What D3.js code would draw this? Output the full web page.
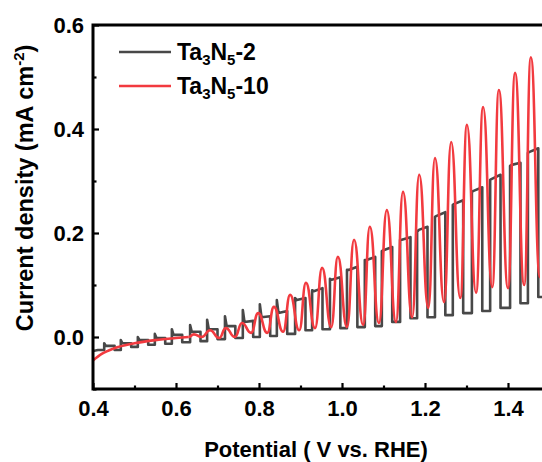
<!DOCTYPE html>
<html><head><meta charset="utf-8">
<script src="https://cdn.jsdelivr.net/npm/d3@7"></script>
<style>
body{margin:0;background:#fff}
svg{display:block}
text{font-family:"Liberation Sans",Arial,sans-serif;font-weight:bold;fill:#000}
</style>
</head><body>
<svg id="c" width="542" height="462"></svg>
<script>
// ---------- DATA ----------
const seriesNames = ["Ta3N5-2", "Ta3N5-10"];
const xTicks = [0.4, 0.6, 0.8, 1.0, 1.2, 1.4];
const xMinor = [0.5, 0.7, 0.9, 1.1, 1.3, 1.5];
const yTicks = [0.0, 0.2, 0.4, 0.6];
const yMinor = [-0.1, 0.1, 0.3, 0.5];

// Ta3N5-2 (chopped light, square-wave response)
const grayStartV = [0.400, 0.412];
const grayStartJ = [-0.027, -0.025];
const grayOn  = [0.427,0.467,0.508,0.549,0.590,0.634,0.675,0.718,0.761,0.802,0.843,0.887,0.928,0.971,1.012,1.055,1.096,1.140,1.181,1.224,1.267,1.313,1.357,1.405,1.448];
const grayOff = [0.452,0.492,0.533,0.574,0.615,0.659,0.700,0.743,0.786,0.827,0.868,0.912,0.953,0.996,1.037,1.080,1.121,1.165,1.206,1.249,1.292,1.338,1.382,1.430,1.473];
const graySpike   = [-0.012,-0.006,0.000,0.006,0.015,0.023,0.033,0.040,0.052,0.063,0.071,0.075,0.090,0.112,0.129,0.148,0.165,0.187,0.202,0.231,0.254,0.279,0.302,0.329,0.354];
const grayPlateau = [-0.017,-0.012,-0.006,-0.002,0.004,0.010,0.015,0.021,0.029,0.038,0.046,0.071,0.088,0.110,0.129,0.148,0.167,0.187,0.206,0.233,0.256,0.281,0.304,0.331,0.356];
const grayLightEnd= [-0.017,-0.012,-0.006,-0.002,0.004,0.010,0.015,0.021,0.031,0.040,0.050,0.075,0.094,0.115,0.135,0.154,0.173,0.192,0.212,0.240,0.263,0.288,0.312,0.335,0.363];
const grayDark    = [-0.025,-0.019,-0.015,-0.013,-0.010,-0.008,-0.004,-0.002,0.000,0.002,0.006,0.013,0.015,0.017,0.019,0.021,0.029,0.036,0.038,0.042,0.046,0.050,0.056,0.065,0.077];

// Ta3N5-10 (chopped light, rounded transients)
const redBaseV = [0.400, 0.420, 0.450, 0.500, 0.550, 0.600, 0.630];
const redBaseJ = [-0.045,-0.033,-0.022,-0.012,-0.006,-0.002,0.000];
const redPeakV = [0.643,0.682,0.720,0.759,0.798,0.836,0.875,0.913,0.952,0.990,1.029,1.067,1.108,1.147,1.186,1.224,1.263,1.301,1.340,1.378,1.417,1.455];
const redPeakJ = [0.005,0.013,0.017,0.027,0.046,0.058,0.081,0.104,0.133,0.154,0.187,0.212,0.244,0.279,0.312,0.344,0.375,0.408,0.442,0.475,0.508,0.538];
const redTroughV = [0.662,0.704,0.742,0.781,0.820,0.858,0.897,0.935,0.974,1.012,1.051,1.089,1.130,1.169,1.208,1.246,1.285,1.323,1.362,1.400,1.439,1.477];
const redTroughJ = [0.000,-0.002,0.000,0.008,0.008,0.010,0.013,0.017,0.019,0.019,0.023,0.027,0.029,0.038,0.056,0.067,0.075,0.085,0.096,0.094,0.100,0.115];

const colors = ["#484848", "#f23a3f"];

// ---------- CHART ----------
const svg = d3.select("#c");
const x = d3.scaleLinear().domain([0.4, 1.5]).range([93, 549.5]);
const y = d3.scaleLinear().domain([-0.1, 0.6]).range([389, 25]);

svg.append("defs").append("clipPath").attr("id","clip")
  .append("rect").attr("x",93).attr("y",25).attr("width",460).attr("height",364);

// gray points
const gp = [];
grayStartV.forEach((v,i)=>gp.push([v, grayStartJ[i]]));
grayOn.forEach((on,i)=>{
  const prevDark = i ? grayDark[i-1] : grayStartJ[grayStartJ.length-1];
  gp.push([on, prevDark]);
  gp.push([on, graySpike[i]]);
  gp.push([on + 0.004, grayPlateau[i]]);
  gp.push([grayOff[i], grayLightEnd[i]]);
  gp.push([grayOff[i], grayDark[i]]);
  if (i === grayOn.length-1) gp.push([1.5, grayDark[i]]);
});

// red points
const rBase = redBaseV.map((v,i)=>[v, redBaseJ[i]]);
const rOsc = [rBase[rBase.length-1]];
redPeakV.forEach((v,i)=>{ rOsc.push([v, redPeakJ[i]]); rOsc.push([redTroughV[i], redTroughJ[i]]); });

const plot = svg.append("g").attr("clip-path","url(#clip)");
plot.append("path").datum(gp)
  .attr("fill","none").attr("stroke",colors[0]).attr("stroke-width",2.6)
  .attr("stroke-linejoin","round")
  .attr("d", d3.line().x(d=>x(d[0])).y(d=>y(d[1])).curve(d3.curveLinear));

// steep-sided, rounded-end transient rendering between extrema
function transientPath(pts){
  const p = pts.map(d=>[x(d[0]), y(d[1])]);
  const path = d3.path();
  path.moveTo(p[0][0], p[0][1]);
  for (let i=1;i<p.length;i++){
    const [x0,y0]=p[i-1], [x1,y1]=p[i], dx=x1-x0;
    path.bezierCurveTo(x0+0.5*dx, y0, x1-0.5*dx, y1, x1, y1);
  }
  return path.toString();
}
plot.append("path").datum(rBase)
  .attr("fill","none").attr("stroke",colors[1]).attr("stroke-width",2.6)
  .attr("d", d3.line().x(d=>x(d[0])).y(d=>y(d[1])).curve(d3.curveMonotoneX));
plot.append("path").datum(rOsc)
  .attr("fill","none").attr("stroke",colors[1]).attr("stroke-width",2.6)
  .attr("stroke-linejoin","round")
  .attr("d", transientPath);

// axes
const fs = 22;
const gx = svg.append("g").attr("transform","translate(0,389)")
  .call(d3.axisBottom(x).tickValues(xTicks).tickSize(-6).tickPadding(11).tickFormat(d3.format(".1f")));
const gxm = svg.append("g").attr("transform","translate(0,389)")
  .call(d3.axisBottom(x).tickValues(xMinor).tickSize(-3.5).tickFormat(""));
const gy = svg.append("g").attr("transform","translate(93,0)")
  .call(d3.axisLeft(y).tickValues(yTicks).tickSize(-6).tickPadding(9).tickFormat(d3.format(".1f")));
const gym = svg.append("g").attr("transform","translate(93,0)")
  .call(d3.axisLeft(y).tickValues(yMinor).tickSize(-3.5).tickFormat(""));
[gx,gxm,gy,gym].forEach(g=>{
  g.select(".domain").remove();
  g.selectAll("line").attr("stroke","#000").attr("stroke-width",2.2);
  g.selectAll("text").attr("font-size",fs).attr("font-family",null).attr("fill","#000");
});

// frame
svg.append("path").attr("fill","none").attr("stroke","#000").attr("stroke-width",3)
  .attr("stroke-linecap","square")
  .attr("d",`M${x(1.5)},${y(0.6)}H${x(0.4)}V${y(-0.1)}H${x(1.5)}`);

// axis titles
svg.append("text").attr("x",316).attr("y",457).attr("text-anchor","middle").attr("font-size",22)
  .text("Potential ( V vs. RHE)");
const yt = svg.append("text").attr("transform","translate(33,188) rotate(-90)").attr("text-anchor","middle").attr("font-size",23.5);
yt.append("tspan").text("Current density (mA cm");
yt.append("tspan").attr("font-size",15).attr("dy",-9).text("-2");
yt.append("tspan").attr("dy",9).text(")");

// legend
const leg = svg.append("g");
[0,1].forEach(i=>{
  const ly = 52 + i*34;
  leg.append("line").attr("x1",119).attr("x2",171).attr("y1",ly).attr("y2",ly)
    .attr("stroke",colors[i]).attr("stroke-width",2.6);
  const t = leg.append("text").attr("x",177).attr("y",ly+8).attr("font-size",23);
  t.append("tspan").text("Ta");
  t.append("tspan").attr("font-size",15).attr("dy",5).text("3");
  t.append("tspan").attr("dy",-5).text("N");
  t.append("tspan").attr("font-size",15).attr("dy",5).text("5");
  t.append("tspan").attr("dy",-5).text(i===0 ? "-2" : "-10");
});
</script>
</body></html>
